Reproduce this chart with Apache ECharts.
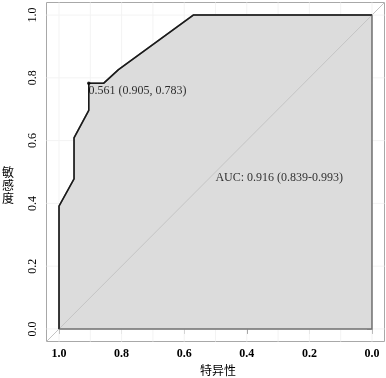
<!DOCTYPE html>
<html>
<head>
<meta charset="utf-8">
<script src="https://cdn.jsdelivr.net/npm/echarts@6/dist/echarts.min.js"></script>
<style>
  html, body { margin: 0; padding: 0; background: #fff; }
  #chart { width: 386px; height: 378px; }
</style>
</head>
<body>
<div id="chart"></div>
<script>
// ROC curve points (specificity, sensitivity)
const specificity = [1, 1, 0.952, 0.952, 0.905, 0.905, 0.857, 0.810, 0.571, 0];
const sensitivity = [0, 0.391, 0.478, 0.609, 0.696, 0.783, 0.783, 0.826, 1, 1];
// best cut-off
const bestThreshold = 0.561;
const bestSpec = 0.905;
const bestSens = 0.783;
// AUC and CI
const aucValue = 0.916;
const aucCI = [0.839, 0.993];
// axis ticks and faint grid
const tickValues = [0, 0.2, 0.4, 0.6, 0.8, 1];
const gridXValues = [0, 0.1, 0.2, 0.3, 0.4, 0.5, 0.6, 0.7, 0.8, 0.9, 1];
const gridYValues = [0, 0.2, 0.4, 0.6, 0.8, 1];
const yTitle = ['敏', '感', '度'];
const xTitle = '特异性';

const axisMin = -0.04, axisMax = 1.04;
const serif = '"Liberation Serif", "Times New Roman", serif';
const cjk = '"Noto Sans CJK SC", sans-serif';

const curve = specificity.map((s, i) => [s, sensitivity[i]]);

const gridSeries = [];
gridXValues.forEach(v => gridSeries.push({
  type: 'line', data: [[v, axisMin], [v, axisMax]], symbol: 'none', silent: true,
  lineStyle: { color: '#f3f3f3', width: 1 }, z: 0
}));
gridYValues.forEach(v => gridSeries.push({
  type: 'line', data: [[axisMin, v], [axisMax, v]], symbol: 'none', silent: true,
  lineStyle: { color: '#f3f3f3', width: 1 }, z: 0
}));

const chart = echarts.init(document.getElementById('chart'));
chart.setOption({
  animation: false,
  grid: {
    left: 46.5, right: 1.5, top: 2.5, bottom: 36.5,
    show: true, borderColor: '#a8a8a8', borderWidth: 1, backgroundColor: 'transparent'
  },
  xAxis: {
    type: 'value', inverse: true, min: axisMin, max: axisMax,
    axisLine: { show: false },
    splitLine: { show: false },
    axisTick: { show: true, length: 5, customValues: tickValues, lineStyle: { color: '#888' } },
    axisLabel: {
      customValues: tickValues, margin: 6, color: '#000',
      fontFamily: serif, fontSize: 12, fontWeight: 'bold',
      formatter: v => v.toFixed(1)
    }
  },
  yAxis: {
    type: 'value', min: axisMin, max: axisMax,
    axisLine: { show: false },
    splitLine: { show: false },
    axisTick: { show: true, length: 5, customValues: tickValues, lineStyle: { color: '#888' } },
    axisLabel: {
      customValues: tickValues, margin: 8, rotate: 90, color: '#000',
      fontFamily: serif, fontSize: 12,
      formatter: v => v.toFixed(1)
    }
  },
  graphic: yTitle.map((ch, i) => ({
    type: 'text', x: 2, y: 166 + i * 13, rotation: 0,
    style: { text: ch, font: '12px ' + cjk, fill: '#000' }
  })).concat([
    { type: 'text', x: 200, y: 364, rotation: 0,
      style: { text: xTitle, font: '12px ' + cjk, fill: '#000' } }
  ]),
  series: gridSeries.concat([
    {
      type: 'custom', z: 1, silent: true,
      data: [0],
      renderItem: (params, api) => {
        const pts = curve.map(p => api.coord(p));
        pts.push(api.coord([0, 0]));
        return {
          type: 'polygon',
          shape: { points: pts },
          style: { fill: '#dcdcdc', stroke: '#707070', lineWidth: 1.5 }
        };
      }
    },
    {
      type: 'line', z: 2, symbol: 'none', silent: true,
      data: [[axisMax, 1 - axisMax], [axisMin, 1 - axisMin]],
      lineStyle: { color: '#c4c4c4', width: 1 }
    },
    {
      type: 'line', z: 3, symbol: 'none', silent: true,
      data: curve,
      lineStyle: { color: '#1a1a1a', width: 1.5 }
    },
    {
      type: 'scatter', z: 4, silent: true,
      data: [[bestSpec, bestSens]],
      symbol: 'circle', symbolSize: 3.5,
      itemStyle: { color: '#000' },
      label: {
        show: true, position: [1.5, 3], align: 'left', verticalAlign: 'top',
        color: '#000', fontFamily: serif, fontSize: 12,
        formatter: () => bestThreshold.toFixed(3) + ' (' + bestSpec.toFixed(3) + ', ' + bestSens.toFixed(3) + ')'
      }
    },
    {
      type: 'scatter', z: 4, silent: true,
      data: [[0.5, 0.5]],
      symbolSize: 0.1,
      itemStyle: { color: 'transparent' },
      label: {
        show: true, position: [0, 0], align: 'left', verticalAlign: 'top',
        color: '#000', fontFamily: serif, fontSize: 12,
        formatter: () => 'AUC: ' + aucValue.toFixed(3) + ' (' + aucCI[0].toFixed(3) + '-' + aucCI[1].toFixed(3) + ')'
      }
    }
  ])
});
</script>
</body>
</html>
